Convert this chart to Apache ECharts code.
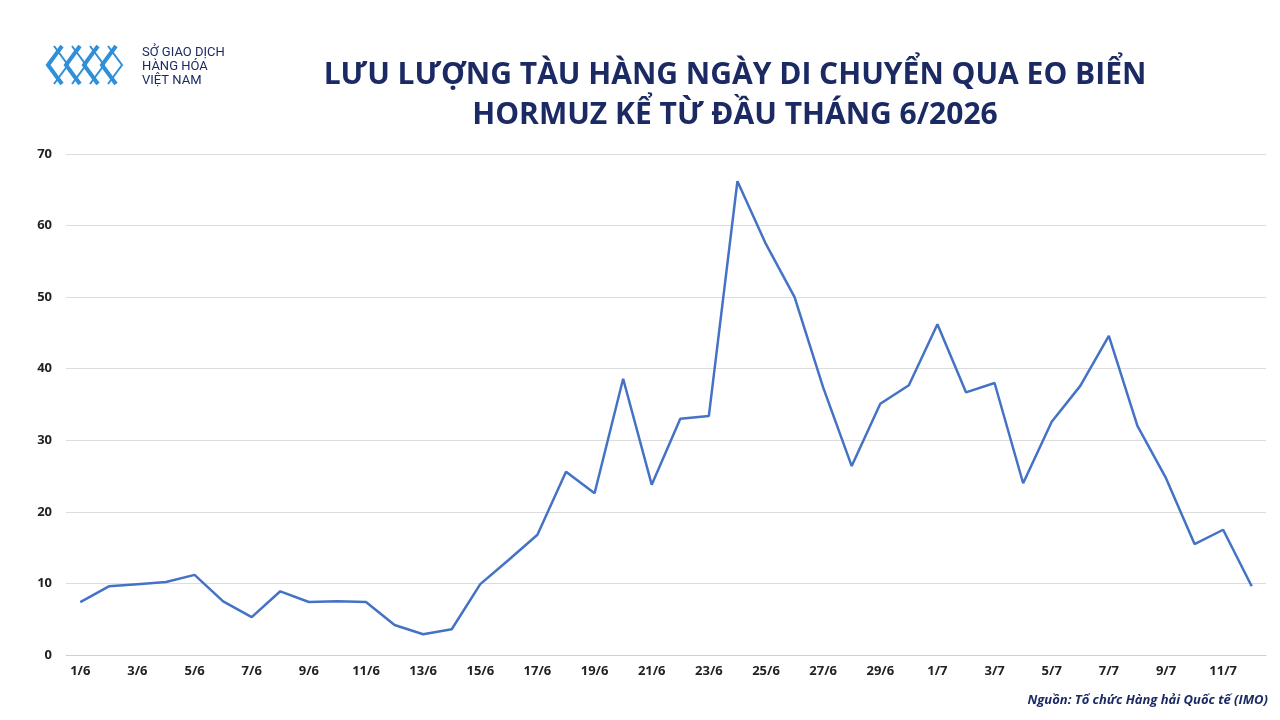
<!DOCTYPE html>
<html><head><meta charset="utf-8">
<script src="https://cdn.jsdelivr.net/npm/echarts@6/dist/echarts.min.js"></script>
<style>html,body{margin:0;padding:0;background:#fff}#c{width:1280px;height:720px}</style>
</head><body><div id="c"></div>
<script>
const categories=['1/6','2/6','3/6','4/6','5/6','6/6','7/6','8/6','9/6','10/6','11/6','12/6','13/6','14/6','15/6','16/6','17/6','18/6','19/6','20/6','21/6','22/6','23/6','24/6','25/6','26/6','27/6','28/6','29/6','30/6','1/7','2/7','3/7','4/7','5/7','6/7','7/7','8/7','9/7','10/7','11/7','12/7'];
const values=[7.4,9.6,9.9,10.2,11.2,7.5,5.3,8.9,7.4,7.5,7.4,4.2,2.9,3.6,9.9,13.3,16.8,25.6,22.6,38.6,23.8,33.0,33.4,66.2,57.4,50.0,37.4,26.4,35.1,37.7,46.2,36.7,38.0,24.0,32.6,37.6,44.6,32.0,24.7,15.5,17.5,9.6];
const yTicks=[0,10,20,30,40,50,60,70];
const chart=echarts.init(document.getElementById('c'));
const blue='#2f8fd8';
const chev=[];
for(let i=0;i<4;i++){const x=48+i*18;chev.push({type:'polyline',shape:{points:[[x+14,46],[x,65],[x+14,84]]},style:{stroke:blue,lineWidth:4,fill:null}});
chev.push({type:'polyline',shape:{points:[[x+6,46],[x+20,65],[x+6,84]]},style:{stroke:blue,lineWidth:2,fill:null}});}
chart.setOption({
 animation:false,
 title:{text:'LƯU LƯỢNG TÀU HÀNG NGÀY DI CHUYỂN QUA EO BIỂN\nHORMUZ KỂ TỪ ĐẦU THÁNG 6/2026',left:730,top:50,textAlign:'center',
  textStyle:{fontFamily:'Open Sans',fontWeight:'bold',fontSize:30,color:'#1b2a63',lineHeight:40}},
 graphic:chev.concat([{type:'text',left:142,top:46,style:{text:'SỞ GIAO DỊCH\nHÀNG HÓA\nVIỆT NAM',font:'13px Roboto',fill:'#1b2a63',lineHeight:14}},
  {type:'text',right:12,top:694,style:{text:'Nguồn: Tổ chức Hàng hải Quốc tế (IMO)',font:'italic bold 13px "Open Sans"',fill:'#1b2a63'}}]),
 grid:{left:66,right:14,top:154,bottom:65},
 xAxis:{type:'category',data:categories,boundaryGap:true,axisTick:{show:false},
  axisLine:{lineStyle:{color:'#d0d0d0'}},
  axisLabel:{interval:1,color:'#222',fontWeight:'bold',fontSize:13,fontFamily:'Open Sans',margin:10}},
 yAxis:{type:'value',min:0,max:70,interval:10,
  axisLabel:{color:'#222',fontWeight:'bold',fontSize:13,fontFamily:'Open Sans',margin:14,formatter:v=>yTicks.includes(v)?String(v):''},
  splitLine:{lineStyle:{color:'#dcdcdc'}}},
 series:[{type:'line',data:values,symbol:'none',lineStyle:{color:'#4472c4',width:2.5}}]
});
</script></body></html>
